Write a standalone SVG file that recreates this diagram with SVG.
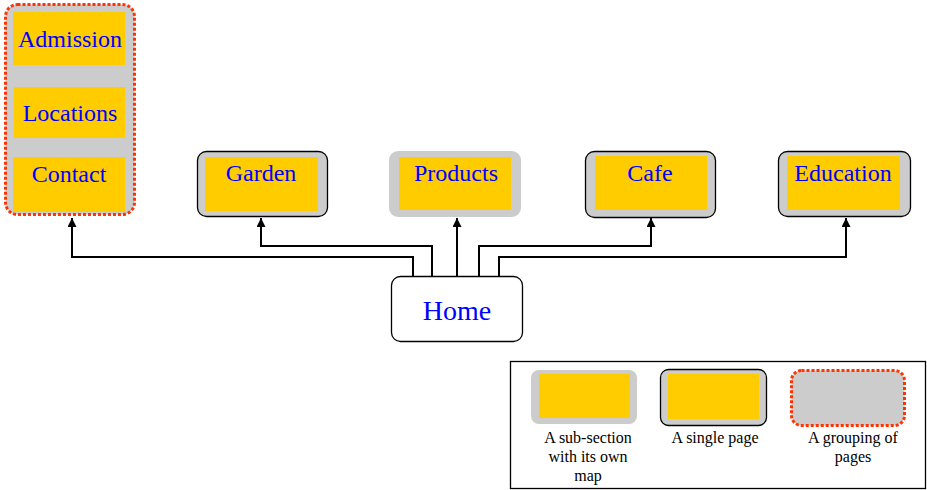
<svg xmlns="http://www.w3.org/2000/svg" width="927" height="490" viewBox="0 0 927 490">
<style>
.pg{fill:#CCCCCC;stroke:#000;stroke-width:1.3}
.sub{fill:#CCCCCC;stroke:none}
.grp{fill:#CCCCCC;stroke:#FF3300;stroke-width:3;stroke-dasharray:3 2}
.y{fill:#FFCC00}
.lbl{font-family:"Liberation Serif","Times New Roman",serif;font-size:24px;fill:#0000FF;text-anchor:middle}
.leg{font-family:"Liberation Serif","Times New Roman",serif;font-size:16px;fill:#000;text-anchor:middle}
.con{fill:none;stroke:#000;stroke-width:2}
</style>
<defs>
<marker id="ah" viewBox="0 0 10 10" refX="10" refY="5" markerWidth="9" markerHeight="9" markerUnits="userSpaceOnUse" orient="auto">
<path d="M0,0 L10,5 L0,10 z" fill="#000"/>
</marker>
</defs>
<rect width="927" height="490" fill="#fff"/>
<g id="connectors">
<path class="con" d="M413,276 V257 H72 V218" marker-end="url(#ah)"/>
<path class="con" d="M432,276 V246 H261 V218" marker-end="url(#ah)"/>
<path class="con" d="M457,276 V218" marker-end="url(#ah)"/>
<path class="con" d="M479,276 V246 H651 V218" marker-end="url(#ah)"/>
<path class="con" d="M499,276 V257 H846 V218" marker-end="url(#ah)"/>
</g>
<g id="group">
<rect class="grp" x="5.5" y="4.5" width="129" height="210" rx="12"/>
<g id="admission"><rect class="y" x="13" y="12" width="112" height="53"/><text class="lbl" x="70" y="47">Admission</text></g>
<g id="locations"><rect class="y" x="14" y="87" width="111" height="51"/><text class="lbl" x="70" y="121">Locations</text></g>
<g id="contact"><rect class="y" x="13" y="157" width="112" height="55"/><text class="lbl" x="69" y="182">Contact</text></g>
</g>
<g id="garden"><rect class="pg" x="197.5" y="151.5" width="130" height="65" rx="9"/><rect class="y" x="205" y="157" width="113" height="54"/><text class="lbl" x="261" y="181">Garden</text></g>
<g id="products"><rect class="sub" x="389" y="151" width="132" height="66" rx="9"/><rect class="y" x="399" y="157" width="112" height="53"/><text class="lbl" x="456" y="181">Products</text></g>
<g id="cafe"><rect class="pg" x="585.5" y="151.5" width="130" height="66" rx="9"/><rect class="y" x="595" y="156" width="112" height="54"/><text class="lbl" x="650" y="181">Cafe</text></g>
<g id="education"><rect class="pg" x="778.5" y="151.5" width="132" height="65" rx="9"/><rect class="y" x="787" y="156" width="113" height="54"/><text class="lbl" x="843" y="181">Education</text></g>
<g id="home"><rect x="391.5" y="276.5" width="131" height="65" rx="9" fill="#fff" stroke="#000" stroke-width="1.3"/><text class="lbl" x="457" y="320" style="font-size:28px">Home</text></g>
<g id="legend">
<rect x="510.5" y="361.5" width="415" height="127" fill="#fff" stroke="#000" stroke-width="1.3"/>
<rect class="sub" x="531" y="370" width="106" height="54" rx="8"/><rect class="y" x="539" y="374" width="91" height="44"/>
<rect class="pg" x="660.5" y="369.5" width="106" height="56" rx="8"/><rect class="y" x="668" y="374" width="91" height="45"/>
<rect class="grp" x="791.5" y="370.5" width="113" height="55" rx="10"/>
<text class="leg" x="588" y="443">A sub-section</text>
<text class="leg" x="588" y="462">with its own</text>
<text class="leg" x="588" y="481">map</text>
<text class="leg" x="715" y="443">A single page</text>
<text class="leg" x="853" y="443">A grouping of</text>
<text class="leg" x="853" y="462">pages</text>
</g>
</svg>
